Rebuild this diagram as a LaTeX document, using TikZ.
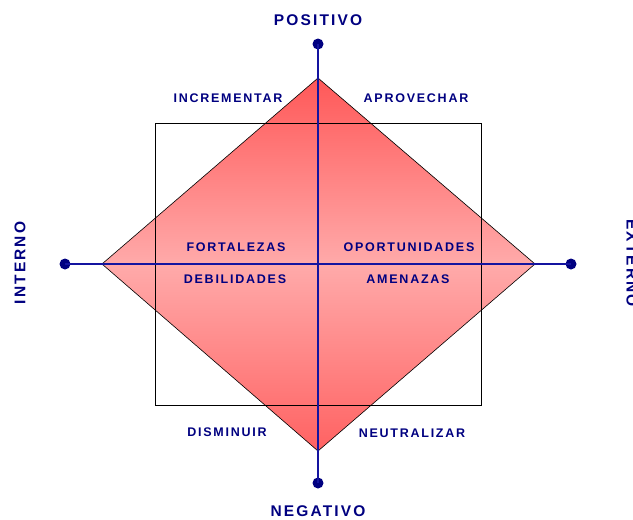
\documentclass[tikz,border=0pt]{standalone}
\usepackage{fontspec}
\setmainfont{Liberation Sans}
\newfontfamily\swotfont{Liberation Sans}[LetterSpace=14.0,BoldFont={Liberation Sans Bold}]
\definecolor{swotblue}{RGB}{0,0,128}
\definecolor{axisblue}{RGB}{20,20,160}
\definecolor{redtop}{RGB}{255,88,88}
\definecolor{redmid}{RGB}{255,170,170}
\definecolor{redbot}{RGB}{255,98,98}

\begin{document}
\begin{tikzpicture} [x=1pt,y=-1pt,
  axislbl/.style={font=\swotfont\bfseries\fontsize{15.5}{17}\selectfont,text=swotblue,inner sep=0pt},
  quadlbl/.style={font=\swotfont\bfseries\fontsize{12.5}{14}\selectfont,text=swotblue,inner sep=0pt},
  enddot/.style={circle,fill=swotblue,minimum size=11pt,inner sep=0pt}]
\useasboundingbox (0,0) rectangle (633,520);
% diamond and box
\coordinate (dN) at (318,78);
\coordinate (dE) at (535,264);
\coordinate (dS) at (318,451);
\coordinate (dW) at (102,264);
\draw[black,line width=0.6pt,top color=redtop,bottom color=redbot,middle color=redmid] (dN) -- (dE) -- (dS) -- (dW) -- cycle;
\draw[black,line width=0.8pt] (155,123) rectangle (481,405);
% axes
\node[enddot] (top) at (318,44) {};
\node[enddot] (bot) at (318,483) {};
\node[enddot] (lft) at (65,264) {};
\node[enddot] (rgt) at (571,264) {};
\draw[axisblue,line width=1.2pt] (top.center) -- (bot.center);
\draw[axisblue,line width=1.2pt] (lft.center) -- (rgt.center);
\node[axislbl] (pos) at (318,20) {POSITIVO};
\node[axislbl] (neg) at (318,511) {NEGATIVO};
\node[axislbl,rotate=90] (int) at (20,263) {INTERNO};
\node[axislbl,rotate=-90] (ext) at (632,263) {EXTERNO};
% quadrants
\node[quadlbl] (inc) at (228,98) {INCREMENTAR};
\node[quadlbl] (apr) at (416,98) {APROVECHAR};
\node[quadlbl] (fort) at (236,247) {FORTALEZAS};
\node[quadlbl] (opor) at (409,247) {OPORTUNIDADES};
\node[quadlbl] (debi) at (235,279) {DEBILIDADES};
\node[quadlbl] (amen) at (408,279) {AMENAZAS};
\node[quadlbl] (dism) at (227,432) {DISMINUIR};
\node[quadlbl] (neut) at (412,433) {NEUTRALIZAR};
\end{tikzpicture}
\end{document}
